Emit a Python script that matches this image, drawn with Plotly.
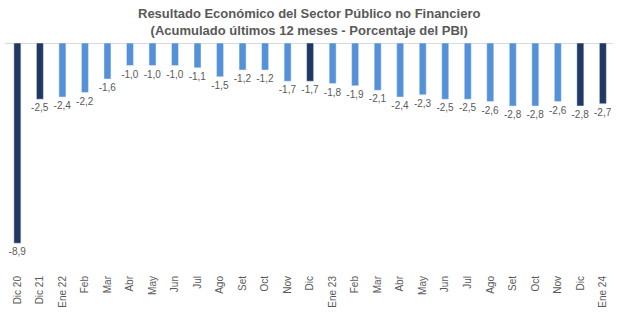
import plotly.graph_objects as go

labels = ["Dic 20", "Dic 21", "Ene 22", "Feb", "Mar", "Abr", "May", "Jun", "Jul", "Ago",
          "Set", "Oct", "Nov", "Dic", "Ene 23", "Feb", "Mar", "Abr", "May", "Jun", "Jul",
          "Ago", "Set", "Oct", "Nov", "Dic", "Ene 24"]
values = [-8.9, -2.5, -2.4, -2.2, -1.6, -1.0, -1.0, -1.0, -1.1, -1.5, -1.2, -1.2, -1.7,
          -1.7, -1.8, -1.9, -2.1, -2.4, -2.3, -2.5, -2.5, -2.6, -2.8, -2.8, -2.6, -2.8, -2.7]
highlight = [True, True, False, False, False, False, False, False, False, False, False,
             False, False, True, False, False, False, False, False, False, False, False,
             False, False, False, True, True]

DARK = "#1f3864"
LIGHT = "#5591d6"
colors = [DARK if h else LIGHT for h in highlight]
xs = list(range(len(labels)))

fig = go.Figure(go.Bar(
    x=xs, y=values, marker_color=colors, width=0.31,
    text=[f"{v:.1f}".replace(".", ",") for v in values],
    textposition="outside", cliponaxis=False, constraintext="none",
    textfont=dict(size=10, color="#595959"),
))

fig.add_annotation(
    text="<b>Resultado Económico del Sector Público no Financiero<br>(Acumulado últimos 12 meses - Porcentaje del PBI)</b>",
    xref="paper", yref="paper", x=0.5, y=1.175, xanchor="center", yanchor="top",
    showarrow=False, font=dict(size=13, color="#595959"),
)

fig.update_layout(
    width=620, height=322,
    margin=dict(l=5, r=7, t=43, b=54),
    paper_bgcolor="white", plot_bgcolor="white",
    font=dict(family="Liberation Sans, Arial, sans-serif", color="#595959"),
    showlegend=False,
    xaxis=dict(tickmode="array", tickvals=xs, ticktext=labels, tickangle=-90,
               range=[-0.55, 26.45], showgrid=False, zeroline=False, showline=False,
               tickfont=dict(size=10, color="#595959"), ticks="", ticklabelstandoff=5),
    yaxis=dict(range=[-10, 0], visible=True, showticklabels=False, showgrid=False,
               zeroline=True, zerolinecolor="#d9d9d9", zerolinewidth=1, showline=False),
)

fig.write_html("out.html")
